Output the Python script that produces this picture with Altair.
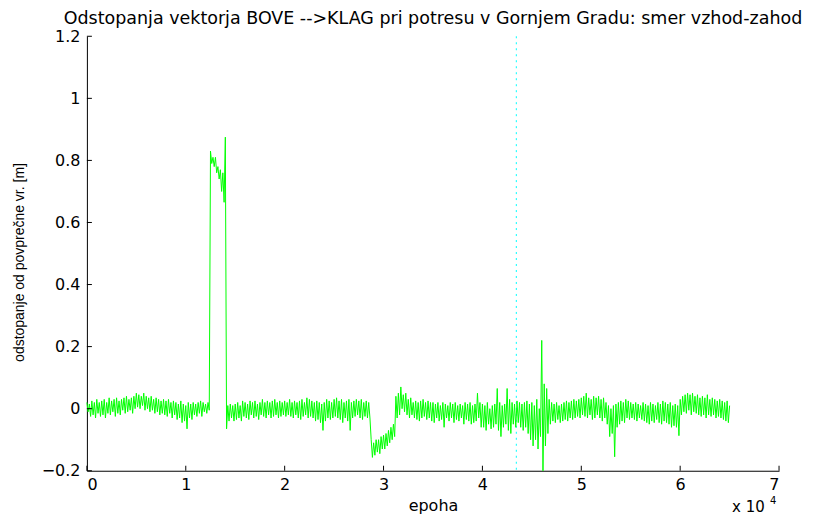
import altair as alt
import pandas as pd

# Envelope of the noisy trace, one column per 250 epochs (0..65000)
step = 250
hi = [
    # 0 - 4750
    0.02, 0.015, 0.025, 0.02, 0.03, 0.02, 0.025, 0.03, 0.02, 0.035,
    0.025, 0.03, 0.035, 0.025, 0.03, 0.035, 0.04, 0.03, 0.035, 0.04,
    # 5000 - 9750
    0.05, 0.045, 0.04, 0.05, 0.04, 0.035, 0.04, 0.03, 0.035, 0.03,
    0.025, 0.03, 0.025, 0.03, 0.02, 0.025, 0.02, 0.015, 0.025, 0.015,
    # 10000 - 14750
    0.01, 0.02, 0.015, 0.02, 0.015, 0.02, 0.025, 0.02, 0.015, 0.02,
    0.83, 0.81, 0.81, 0.78, 0.77, 0.76, 0.875, 0.01, 0.015, 0.01,
    # 15000 - 19750
    0.015, 0.02, 0.01, 0.025, 0.02, 0.015, 0.025, 0.02, 0.025, 0.015,
    0.02, 0.03, 0.02, 0.025, 0.02, 0.025, 0.03, 0.02, 0.025, 0.02,
    # 20000 - 24750
    0.025, 0.02, 0.03, 0.02, 0.025, 0.02, 0.025, 0.03, 0.02, 0.035,
    0.03, 0.025, 0.02, 0.025, 0.02, 0.015, 0.02, 0.03, 0.025, 0.02,
    # 25000 - 29750
    0.03, 0.035, 0.025, 0.03, 0.02, 0.025, 0.03, 0.02, 0.025, 0.03,
    0.025, 0.03, 0.02, 0.025, 0.02, -0.10, -0.11, -0.10, -0.10, -0.09,
    # 30000 - 34750
    -0.085, -0.08, -0.07, -0.06, -0.05, 0.04, 0.05, 0.07, 0.045, 0.05,
    0.03, 0.035, 0.02, 0.025, 0.02, 0.025, 0.03, 0.02, 0.025, 0.02,
    # 35000 - 39750
    0.02, 0.015, 0.02, 0.01, 0.02, 0.015, 0.01, 0.02, 0.015, 0.02,
    0.01, 0.015, 0.01, 0.02, 0.015, 0.02, 0.01, 0.015, 0.05, 0.02,
    # 40000 - 44750
    0.015, 0.01, 0.02, 0.0, 0.01, 0.015, 0.065, 0.02, 0.01, 0.015,
    0.065, 0.03, 0.02, 0.015, 0.025, 0.02, 0.015, 0.02, 0.025, 0.015,
    # 45000 - 49750
    0.02, 0.01, 0.03, 0.0, 0.22, 0.08, 0.065, 0.03, 0.02, 0.015,
    0.02, 0.01, 0.015, 0.02, 0.025, 0.02, 0.025, 0.03, 0.025, 0.03,
    # 50000 - 54750
    0.035, 0.04, 0.05, 0.035, 0.03, 0.04, 0.035, 0.04, 0.03, 0.035,
    0.02, 0.01, 0.0, 0.01, 0.015, 0.02, 0.025, 0.02, 0.03, 0.025,
    # 55000 - 59750
    0.02, 0.015, 0.02, 0.015, 0.01, 0.02, 0.015, 0.01, 0.02, 0.015,
    0.01, 0.02, 0.015, 0.025, 0.02, 0.015, 0.02, 0.01, 0.015, 0.01,
    # 60000 - 65000
    0.03, 0.04, 0.045, 0.05, 0.045, 0.05, 0.04, 0.045, 0.035, 0.04,
    0.035, 0.045, 0.03, 0.035, 0.03, 0.025, 0.03, 0.025, 0.02, 0.025,
    0.01,
]
lo = [
    # 0 - 4750
    -0.01, -0.025, -0.02, -0.03, -0.015, -0.025, -0.02, -0.03, -0.015, -0.02,
    -0.01, -0.025, -0.015, -0.02, -0.005, -0.015, -0.01, -0.005, -0.015, 0.0,
    # 5000 - 9750
    0.005, 0.0, 0.01, -0.005, 0.0, -0.01, -0.005, -0.015, -0.01, -0.02,
    -0.015, -0.02, -0.025, -0.015, -0.03, -0.02, -0.035, -0.03, -0.045, -0.04,
    # 10000 - 14750
    -0.065, -0.03, -0.035, -0.02, -0.025, -0.015, -0.025, -0.01, -0.015, -0.005,
    0.79, 0.78, 0.76, 0.74, 0.70, 0.665, -0.065, -0.04, -0.03, -0.04,
    # 15000 - 19750
    -0.035, -0.03, -0.04, -0.025, -0.03, -0.035, -0.02, -0.03, -0.025, -0.035,
    -0.02, -0.025, -0.03, -0.02, -0.03, -0.025, -0.02, -0.03, -0.025, -0.02,
    # 20000 - 24750
    -0.025, -0.02, -0.025, -0.03, -0.02, -0.03, -0.035, -0.025, -0.02, -0.03,
    -0.025, -0.03, -0.04, -0.035, -0.045, -0.07, -0.04, -0.03, -0.035, -0.03,
    # 25000 - 29750
    -0.025, -0.03, -0.035, -0.045, -0.03, -0.04, -0.07, -0.03, -0.025, -0.02,
    -0.03, -0.035, -0.025, -0.03, -0.03, -0.157, -0.15, -0.14, -0.145, -0.13,
    # 30000 - 34750
    -0.13, -0.12, -0.11, -0.10, -0.09, -0.03, -0.02, 0.0, -0.01, -0.02,
    -0.03, -0.02, -0.03, -0.035, -0.04, -0.03, -0.025, -0.035, -0.03, -0.04,
    # 35000 - 39750
    -0.045, -0.03, -0.04, -0.035, -0.06, -0.03, -0.04, -0.03, -0.045, -0.035,
    -0.04, -0.03, -0.05, -0.035, -0.04, -0.05, -0.045, -0.04, -0.03, -0.06,
    # 40000 - 44750
    -0.06, -0.07, -0.05, -0.065, -0.06, -0.05, -0.07, -0.09, -0.06, -0.05,
    -0.07, -0.08, -0.05, -0.06, -0.045, -0.06, -0.07, -0.06, -0.08, -0.10,
    # 45000 - 49750
    -0.12, -0.10, -0.13, -0.09, -0.2, -0.12, -0.08, -0.05, -0.04, -0.045,
    -0.035, -0.045, -0.04, -0.035, -0.04, -0.03, -0.035, -0.03, -0.025, -0.03,
    # 50000 - 54750
    -0.02, -0.025, -0.03, -0.02, -0.035, -0.03, -0.02, -0.03, -0.04, -0.03,
    -0.05, -0.09, -0.08, -0.155, -0.06, -0.05, -0.04, -0.045, -0.03, -0.035,
    # 55000 - 59750
    -0.03, -0.035, -0.04, -0.03, -0.035, -0.04, -0.045, -0.05, -0.04, -0.045,
    -0.035, -0.045, -0.05, -0.04, -0.045, -0.05, -0.06, -0.055, -0.06, -0.087,
    # 60000 - 65000
    -0.02, -0.01, -0.015, -0.005, -0.02, -0.01, -0.015, -0.02, -0.025, -0.02,
    -0.03, -0.02, -0.025, -0.02, -0.03, -0.025, -0.03, -0.035, -0.04, -0.045,
    -0.055,
]

x_ticks = [0, 10000, 20000, 30000, 40000, 50000, 60000, 70000]
y_ticks = [-0.2, 0, 0.2, 0.4, 0.6, 0.8, 1.0, 1.2]
marker_epoch = [43430]

# trace: each column visited top then bottom (as the dense plotted samples do)
rows = []
for i, (h, l) in enumerate(zip(hi, lo)):
    rows.append({"epoha": i * step, "v": h})
    rows.append({"epoha": i * step + step // 2, "v": l})
df = pd.DataFrame(rows[:-1])

W, H = 693, 435
FONT = "Liberation Sans"
FONT2 = "DejaVu Sans"

xs = alt.Scale(domain=[0, 70000], nice=False, zero=False)
ys = alt.Scale(domain=[-0.2, 1.2], nice=False, zero=False)

line = alt.Chart(df).mark_line(color="#00ff00", strokeWidth=1, interpolate="linear").encode(
    x=alt.X("epoha:Q", scale=xs,
            axis=alt.Axis(values=x_ticks, labelExpr="datum.value / 10000", tickSize=0,
                          title="epoha", grid=False, domainColor="black", labelColor="black",
                          labelFont=FONT2, labelFontSize=16, labelPadding=6,
                          titleFont=FONT2, titleFontSize=16, titleFontWeight="normal",
                          titleColor="black", titlePadding=5)),
    y=alt.Y("v:Q", scale=ys,
            axis=alt.Axis(values=y_ticks, tickSize=0, format="~g",
                          title="odstopanje od povprečne vr. [m]", grid=False,
                          domainColor="black", labelColor="black",
                          labelFont=FONT2, labelFontSize=16, labelPadding=7,
                          titleFont=FONT, titleFontSize=14, titleFontWeight="normal",
                          titleColor="black", titleX=-67, titleY=226,
                          titleBaseline="middle", titleAlign="center")),
)

vline = alt.Chart(pd.DataFrame({"m": marker_epoch})).mark_rule(
    color="#00ffff", strokeWidth=1, strokeDash=[2, 4]).encode(
    x=alt.X("m:Q", scale=xs))

yt = alt.Chart(pd.DataFrame({"t": y_ticks})).mark_rule(color="black", strokeWidth=1).encode(
    y=alt.Y("t:Q", scale=ys), x=alt.value(0), x2=alt.value(5))
xt = alt.Chart(pd.DataFrame({"t": x_ticks})).mark_rule(color="black", strokeWidth=1).encode(
    x=alt.X("t:Q", scale=xs), y=alt.value(H - 5), y2=alt.value(H))

exp1 = alt.Chart(pd.DataFrame({"s": ["x 10"]})).mark_text(
    font=FONT2, fontSize=15, align="left", baseline="alphabetic", color="black").encode(
    text="s:N", x=alt.value(646), y=alt.value(476))
exp2 = alt.Chart(pd.DataFrame({"s": ["4"]})).mark_text(
    font=FONT2, fontSize=10, align="left", baseline="alphabetic", color="black").encode(
    text="s:N", x=alt.value(684), y=alt.value(468))

chart = alt.layer(vline, line, yt, xt, exp1, exp2).properties(
    width=W, height=H,
    title=alt.TitleParams("Odstopanja vektorja BOVE -->KLAG pri potresu v Gornjem Gradu: smer vzhod-zahod",
                          font=FONT2, fontSize=17.5, fontWeight="normal", color="black",
                          anchor="middle", offset=1),
    autosize=alt.AutoSizeParams(type="none"),
    padding={"left": 79, "top": 28, "right": 36, "bottom": 44},
    background="white",
).configure_view(stroke=None)

chart.save("out.html", embed_options={"renderer": "svg", "actions": False})
